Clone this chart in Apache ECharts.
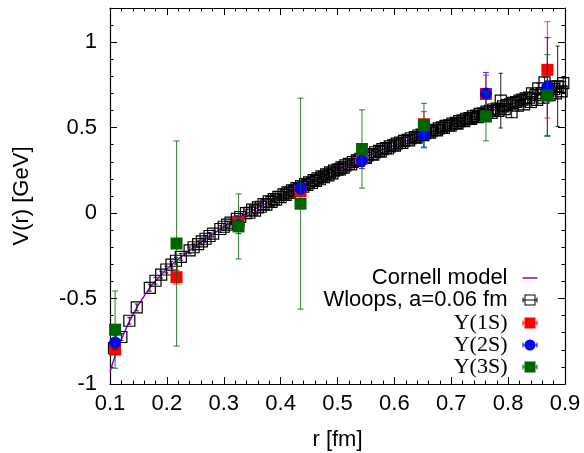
<!DOCTYPE html>
<html><head><meta charset="utf-8">
<script src="https://cdn.jsdelivr.net/npm/echarts@6.0.0/dist/echarts.min.js"></script>
<style>html,body{margin:0;padding:0;background:#fff}#c{width:584px;height:453px}</style>
</head><body><div id="c"></div>
<script>
// ---- tick labels ----
const xTickLabels = ['0.1','0.2','0.3','0.4','0.5','0.6','0.7','0.8','0.9'];
const yTickLabels = ['-1','-0.5','0','0.5','1'];

// ---- Cornell model curve ----
const cornellR = [0.100,0.105,0.110,0.115,0.120,0.130,0.140,0.150,0.160,0.170,0.180,0.190,0.200,0.220,0.240,0.260,0.280,0.300,0.320,0.340,0.360,0.380,0.400,0.430,0.460,0.500,0.540,0.580,0.620,0.660,0.700,0.740,0.780,0.820,0.860,0.900];
const cornellV = [-0.930,-0.875,-0.826,-0.781,-0.738,-0.662,-0.596,-0.537,-0.486,-0.437,-0.397,-0.360,-0.327,-0.269,-0.218,-0.170,-0.124,-0.080,-0.040,-0.003,0.032,0.066,0.098,0.144,0.190,0.255,0.314,0.372,0.421,0.469,0.516,0.563,0.609,0.653,0.696,0.738];

// ---- Wloops, a=0.06 fm : [r, V, err] ----
const wloops = [
[0.107,-0.790,0.02],[0.120,-0.725,0.02],[0.134,-0.630,0.02],[0.147,-0.552,0.02],[0.170,-0.437,0.02],[0.180,-0.396,0.02],
[0.190,-0.360,0.02],[0.199,-0.330,0.02],[0.208,-0.302,0.02],[0.216,-0.279,0.02],[0.2245,-0.256,0.02],[0.240,-0.218,0.02],
[0.247,-0.200,0.02],[0.255,-0.182,0.02],[0.2615,-0.166,0.02],[0.268,-0.150,0.02],[0.275,-0.134,0.02],[0.2814,-0.120,0.02],
[0.294,-0.093,0.02],[0.300,-0.080,0.02],[0.306,-0.068,0.02],[0.312,-0.056,0.02],[0.323,-0.034,0.02],[0.329,-0.023,0.02],
[0.339,0.000,0.02],[0.345,0.002,0.02],[0.350,0.020,0.02],[0.355,0.015,0.02],[0.360,0.034,0.02],[0.365,0.037,0.02],
[0.370,0.052,0.02],[0.375,0.050,0.02],[0.379,0.068,0.02],[0.384,0.066,0.02],[0.388,0.082,0.02],[0.392,0.079,0.02],
[0.396,0.095,0.02],[0.400,0.094,0.02],[0.405,0.109,0.02],[0.409,0.106,0.02],[0.412,0.121,0.02],[0.416,0.118,0.02],
[0.420,0.133,0.02],[0.424,0.130,0.02],[0.428,0.146,0.02],[0.432,0.142,0.02],[0.436,0.158,0.02],[0.440,0.154,0.02],
[0.443,0.170,0.02],[0.447,0.165,0.02],[0.450,0.180,0.02],[0.455,0.176,0.02],[0.458,0.193,0.02],[0.462,0.188,0.02],
[0.465,0.204,0.02],[0.469,0.198,0.02],[0.472,0.215,0.02],[0.476,0.210,0.02],[0.480,0.227,0.02],[0.484,0.221,0.02],
[0.487,0.238,0.02],[0.491,0.232,0.02],[0.494,0.249,0.02],[0.500,0.254,0.02],[0.504,0.256,0.02],[0.507,0.268,0.02],
[0.511,0.266,0.02],[0.514,0.279,0.02],[0.520,0.288,0.02],[0.524,0.285,0.02],[0.527,0.299,0.02],[0.534,0.308,0.02],
[0.537,0.306,0.02],[0.540,0.318,0.02],[0.547,0.326,0.02],[0.550,0.323,0.02],[0.553,0.337,0.02],[0.560,0.345,0.02],
[0.563,0.342,0.02],[0.566,0.356,0.02],[0.573,0.364,0.02],[0.576,0.360,0.02],[0.579,0.374,0.02],[0.585,0.380,0.02],
[0.589,0.378,0.02],[0.592,0.390,0.02],[0.598,0.397,0.02],[0.601,0.394,0.02],[0.604,0.407,0.02],[0.610,0.413,0.02],
[0.614,0.410,0.02],[0.617,0.423,0.02],[0.623,0.429,0.02],[0.626,0.426,0.02],[0.629,0.438,0.02],[0.636,0.445,0.02],
[0.639,0.441,0.02],[0.642,0.454,0.02],[0.648,0.459,0.02],[0.651,0.456,0.02],[0.654,0.468,0.02],[0.660,0.473,0.02],
[0.663,0.470,0.02],[0.666,0.482,0.02],[0.672,0.487,0.02],[0.675,0.484,0.02],[0.678,0.496,0.02],[0.684,0.501,0.02],
[0.687,0.498,0.02],[0.690,0.510,0.02],[0.696,0.514,0.02],[0.699,0.511,0.02],[0.702,0.524,0.02],[0.708,0.528,0.02],
[0.711,0.524,0.02],[0.714,0.538,0.02],[0.720,0.542,0.02],[0.723,0.538,0.02],[0.726,0.552,0.02],[0.732,0.556,0.02],
[0.735,0.551,0.02],[0.738,0.566,0.02],[0.744,0.570,0.02],[0.747,0.562,0.02],[0.750,0.580,0.03],[0.756,0.584,0.03],
[0.759,0.574,0.03],[0.762,0.594,0.03],[0.768,0.598,0.03],[0.771,0.586,0.03],[0.774,0.606,0.03],[0.780,0.612,0.03],
[0.783,0.598,0.03],[0.787,0.658,0.16],[0.791,0.624,0.03],[0.794,0.608,0.03],[0.797,0.632,0.03],[0.803,0.636,0.03],
[0.806,0.590,0.03],[0.808,0.645,0.03],[0.814,0.650,0.03],[0.817,0.628,0.03],[0.820,0.658,0.03],[0.825,0.664,0.03],
[0.828,0.636,0.03],[0.831,0.671,0.03],[0.837,0.676,0.03],[0.840,0.650,0.03],[0.842,0.700,0.03],[0.848,0.690,0.03],
[0.851,0.662,0.03],[0.853,0.730,0.03],[0.859,0.702,0.03],[0.862,0.675,0.03],[0.864,0.765,0.03],[0.870,0.714,0.03],
[0.873,0.690,0.03],[0.875,0.740,0.03],[0.881,0.726,0.03],[0.884,0.700,0.03],[0.887,0.742,0.235],[0.891,0.738,0.03],
[0.894,0.712,0.03],[0.897,0.760,0.03]
];

// ---- Upsilon states ----
const upsR  = [0.109,0.217,0.326,0.435,0.543,0.652,0.761,0.869];
const ups1V = [-0.798,-0.375,-0.050,0.129,0.320,0.520,0.697,0.838];
const ups1E = [0.030,0.040,0.020,0.030,0.030,0.074,0.110,0.282];
const ups2V = [-0.757,null,-0.070,0.146,0.307,0.458,0.700,0.740];
const ups2E = [0.040,null,0.050,0.035,0.046,0.072,0.122,0.287];
const ups3V = [-0.682,-0.178,-0.078,0.055,0.375,0.512,0.565,0.688];
const ups3E = [0.226,0.600,0.190,0.617,0.229,0.130,0.142,0.239];

const SANS = "'Liberation Sans', Arial, Helvetica, sans-serif";
const SERIF = "'Liberation Serif', 'Times New Roman', serif";
const FS = 22;

function fmt(list) {
  return function (v) {
    const s = list.find(t => Math.abs(Number(t) - v) < 1e-6);
    return s === undefined ? '' : s;
  };
}

function errSeries(name, pts, color, cap, opacity, z) {
  return {
    type: 'custom', name: name, xAxisIndex: 0, yAxisIndex: 0, z: z, silent: true,
    data: pts, encode: { x: 0, y: 1 }, clip: true,
    renderItem: function (params, api) {
      const x = api.value(0), y = api.value(1), e = api.value(2);
      const p1 = api.coord([x, y + e]), p2 = api.coord([x, y - e]);
      const st = { stroke: color, lineWidth: 1.1, opacity: opacity };
      return { type: 'group', children: [
        { type: 'line', shape: { x1: p1[0], y1: p1[1], x2: p2[0], y2: p2[1] }, style: st },
        { type: 'line', shape: { x1: p1[0] - cap, y1: p1[1], x2: p1[0] + cap, y2: p1[1] }, style: st },
        { type: 'line', shape: { x1: p2[0] - cap, y1: p2[1], x2: p2[0] + cap, y2: p2[1] }, style: st }
      ]};
    }
  };
}

function upsPts(vs, es) {
  const out = [];
  upsR.forEach((r, i) => { if (vs[i] != null) out.push([r, vs[i], es[i]]); });
  return out;
}

const BAR = 'M0,5L15,5L15,6L0,6Z M0,3L1,3L1,8L0,8Z M14,3L15,3L15,8L14,8Z ';
const ICON_SQ = 'path://' + BAR + 'M2,0L13,0L13,11L2,11Z';
const ICON_CIRC = 'path://' + BAR + 'M2,5.5A5.5,5.5 0 1,1 13,5.5A5.5,5.5 0 1,1 2,5.5Z';
const ICON_OPEN = 'path://M2,0L13,0L13,11L2,11Z M3,1L3,10L12,10L12,1Z ' + BAR;
const ICON_LINE = 'path://M0,0L15,0L15,1.5L0,1.5Z';

function legendOne(name, icon, color, top, font) {
  return {
    show: true, orient: 'vertical', align: 'right', right: 46.5, top: top, padding: 0,
    itemWidth: 15, itemHeight: 11, selectedMode: false,
    textStyle: { fontSize: FS, fontFamily: font, color: '#000', lineHeight: 22, padding: [0, 10, 0, 0] },
    data: [{ name: name, icon: icon, itemStyle: { color: color, borderWidth: 0, opacity: 1 } }]
  };
}

const axisCommon = {
  type: 'value', splitLine: { show: false }, minorSplitLine: { show: false },
  axisLine: { show: true, onZero: false, lineStyle: { color: '#000', width: 1.2 } },
  nameMoveOverlap: false
};

const option = {
  animation: false,
  backgroundColor: '#fff',
  grid: { left: 110, right: 19, top: 8, bottom: 69, containLabel: false, outerBoundsMode: 'none' },
  xAxis: [
    Object.assign({}, axisCommon, {
      position: 'bottom', min: 0.1, max: 0.9, interval: 0.1,
      axisTick: { show: true, inside: true, length: 7, lineStyle: { color: '#000', width: 1 } },
      minorTick: { show: true, splitNumber: 5, length: 3.5, lineStyle: { color: '#000', width: 1 } },
      axisLabel: { show: true, margin: 9, fontSize: FS, fontFamily: SANS, color: '#000', formatter: fmt(xTickLabels), showMinLabel: true, showMaxLabel: true },
      name: 'r [fm]', nameLocation: 'middle', nameGap: 45,
      nameTextStyle: { fontSize: FS, fontFamily: SANS, color: '#000' }
    }),
    Object.assign({}, axisCommon, {
      position: 'top', min: 0.1, max: 0.9, interval: 0.1,
      axisTick: { show: true, inside: true, length: 7, lineStyle: { color: '#000', width: 1 } },
      minorTick: { show: true, splitNumber: 5, length: 3.5, lineStyle: { color: '#000', width: 1 } },
      axisLabel: { show: false }
    })
  ],
  yAxis: [
    Object.assign({}, axisCommon, {
      position: 'left', min: -1, max: 1.2, interval: 0.5,
      axisTick: { show: true, inside: true, length: 7, lineStyle: { color: '#000', width: 1 } },
      axisLabel: { show: true, margin: 13, fontSize: FS, fontFamily: SANS, color: '#000', formatter: fmt(yTickLabels), showMinLabel: true, showMaxLabel: false },
      name: 'V(r) [GeV]', nameLocation: 'middle', nameGap: 77, nameRotate: 90,
      nameTextStyle: { fontSize: FS, fontFamily: SANS, color: '#000' }
    }),
    Object.assign({}, axisCommon, {
      position: 'left', min: -1, max: 1.2, interval: 0.1,
      axisLine: { show: false },
      axisTick: { show: true, inside: true, length: 3.5, lineStyle: { color: '#000', width: 1 } },
      axisLabel: { show: false }
    }),
    Object.assign({}, axisCommon, {
      position: 'right', min: -1, max: 1.2, interval: 0.5,
      axisTick: { show: true, inside: true, length: 7, lineStyle: { color: '#000', width: 1 } },
      axisLabel: { show: false }
    }),
    Object.assign({}, axisCommon, {
      position: 'right', min: -1, max: 1.2, interval: 0.1,
      axisLine: { show: false },
      axisTick: { show: true, inside: true, length: 3.5, lineStyle: { color: '#000', width: 1 } },
      axisLabel: { show: false }
    })
  ],
  legend: [
    legendOne('Cornell model', ICON_LINE, '#9400d3', 267, SANS),
    legendOne('Wloops, a=0.06 fm', ICON_OPEN, '#000', 289, SANS),
    legendOne('Υ(1S)', ICON_SQ, '#ff0000', 312, SERIF),
    legendOne('Υ(2S)', ICON_CIRC, '#0000ff', 334, SERIF),
    legendOne('Υ(3S)', ICON_SQ, '#006400', 356, SERIF)
  ],
  series: [
    {
      type: 'line', name: 'Cornell model', xAxisIndex: 0, yAxisIndex: 0, z: 2,
      data: cornellR.map((r, i) => [r, cornellV[i]]),
      symbol: 'none', showSymbol: false, smooth: false, silent: true,
      lineStyle: { color: '#9400d3', width: 1.5 }, itemStyle: { color: '#9400d3' }
    },
    errSeries('wlErr', wloops, '#000', 2, 0.8, 3),
    {
      type: 'scatter', name: 'Wloops, a=0.06 fm', xAxisIndex: 0, yAxisIndex: 0, z: 3, silent: true,
      data: wloops.map(p => [p[0], p[1]]),
      symbol: 'rect', symbolSize: 11,
      itemStyle: { color: 'rgba(255,255,255,0)', borderColor: '#000', borderWidth: 1.2, opacity: 1 }
    },
    errSeries('err1S', upsPts(ups1V, ups1E), '#ff0000', 3, 0.7, 4),
    {
      type: 'scatter', name: 'Υ(1S)', xAxisIndex: 0, yAxisIndex: 0, z: 4, silent: true,
      data: upsPts(ups1V, ups1E).map(p => [p[0], p[1]]),
      symbol: 'rect', symbolSize: 12, itemStyle: { color: '#ff0000', opacity: 1 }
    },
    errSeries('err2S', upsPts(ups2V, ups2E), '#0000ff', 3, 0.75, 5),
    {
      type: 'scatter', name: 'Υ(2S)', xAxisIndex: 0, yAxisIndex: 0, z: 5, silent: true,
      data: upsPts(ups2V, ups2E).map(p => [p[0], p[1]]),
      symbol: 'circle', symbolSize: 12, itemStyle: { color: '#0000ff', opacity: 1 }
    },
    errSeries('err3S', upsPts(ups3V, ups3E), '#006400', 3, 0.75, 6),
    {
      type: 'scatter', name: 'Υ(3S)', xAxisIndex: 0, yAxisIndex: 0, z: 6, silent: true,
      data: upsPts(ups3V, ups3E).map(p => [p[0], p[1]]),
      symbol: 'rect', symbolSize: 12, itemStyle: { color: '#006400', opacity: 1 }
    }
  ]
};

const chart = echarts.init(document.getElementById('c'), null, { renderer: 'canvas' });
chart.setOption(option);
</script>
</body></html>
